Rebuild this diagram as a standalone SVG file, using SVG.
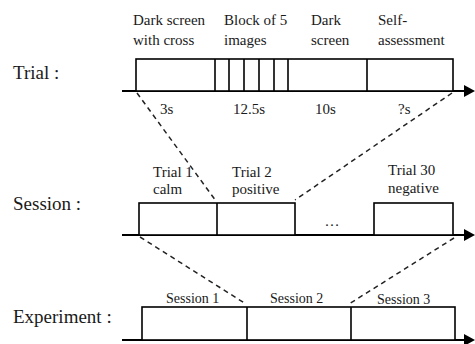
<svg xmlns="http://www.w3.org/2000/svg" width="475" height="344" viewBox="0 0 475 344" font-family="'Liberation Serif', 'Times New Roman', 'DejaVu Serif', serif">
<defs>
<marker id="arr" markerWidth="11" markerHeight="12" refX="8" refY="6" orient="auto" markerUnits="userSpaceOnUse">
<path d="M0,0 L11,6 L0,12 Z" fill="#000"/>
</marker>
<style>
text{fill:#1a1a1a}
.lbl{font-size:19px}
.sm{font-size:15px}
.ss{font-size:14px}
.box{fill:#fff;stroke:#000;stroke-width:1.6}
.axis{stroke:#000;stroke-width:1.8;fill:none}
.div{stroke:#000;stroke-width:1.6}
.dash{stroke:#222;stroke-width:1.5;stroke-dasharray:5,4;fill:none}
</style>
</defs>
<rect width="475" height="344" fill="#fff"/>

<g id="connectors">
<line class="dash" x1="137" y1="93" x2="216" y2="201"/>
<line class="dash" x1="452" y1="93" x2="295" y2="200"/>
<line class="dash" x1="140" y1="237" x2="246" y2="304"/>
<line class="dash" x1="454" y1="238" x2="349" y2="304"/>
</g>

<g id="trial">
<text class="lbl" x="13" y="79">Trial :</text>
<line class="axis" x1="122" y1="91" x2="472" y2="91" marker-end="url(#arr)"/>
<rect class="box" x="136" y="59" width="317" height="32"/>
<line class="div" x1="215" y1="59" x2="215" y2="91"/>
<line class="div" x1="229" y1="59" x2="229" y2="91"/>
<line class="div" x1="244" y1="59" x2="244" y2="91"/>
<line class="div" x1="259" y1="59" x2="259" y2="91"/>
<line class="div" x1="274" y1="59" x2="274" y2="91"/>
<line class="div" x1="288" y1="59" x2="288" y2="91"/>
<line class="div" x1="367" y1="59" x2="367" y2="91"/>
<text class="sm" x="133" y="25">Dark screen</text>
<text class="sm" x="133" y="45">with cross</text>
<text class="sm" x="224" y="25">Block of 5</text>
<text class="sm" x="224" y="45">images</text>
<text class="sm" x="311" y="25">Dark</text>
<text class="sm" x="311" y="45">screen</text>
<text class="sm" x="378" y="25">Self-</text>
<text class="sm" x="378" y="45">assessment</text>
<text class="sm" x="160" y="114">3s</text>
<text class="sm" x="233" y="114">12.5s</text>
<text class="sm" x="315" y="114">10s</text>
<text class="sm" x="398" y="114">?s</text>
</g>

<g id="session">
<text class="lbl" x="13" y="210">Session :</text>
<line class="axis" x1="122" y1="235" x2="472" y2="235" marker-end="url(#arr)"/>
<rect class="box" x="139" y="203" width="156" height="32"/>
<line class="div" x1="217" y1="203" x2="217" y2="235"/>
<rect class="box" x="374" y="203" width="79" height="32"/>
<text class="sm" x="332" y="226" text-anchor="middle">…</text>
<text class="sm" x="153" y="177">Trial 1</text>
<text class="sm" x="153" y="194">calm</text>
<text class="sm" x="232" y="177">Trial 2</text>
<text class="sm" x="232" y="194">positive</text>
<text class="sm" x="388" y="175">Trial 30</text>
<text class="sm" x="388" y="193">negative</text>
</g>

<g id="experiment">
<text class="lbl" x="13" y="323">Experiment :</text>
<line class="axis" x1="122" y1="340" x2="472" y2="340" marker-end="url(#arr)"/>
<rect class="box" x="142" y="307" width="313" height="33"/>
<line class="div" x1="247" y1="307" x2="247" y2="340"/>
<line class="div" x1="351" y1="307" x2="351" y2="340"/>
<text class="ss" x="166" y="303">Session 1</text>
<text class="ss" x="270" y="303">Session 2</text>
<text class="ss" x="377" y="304">Session 3</text>
</g>
</svg>
